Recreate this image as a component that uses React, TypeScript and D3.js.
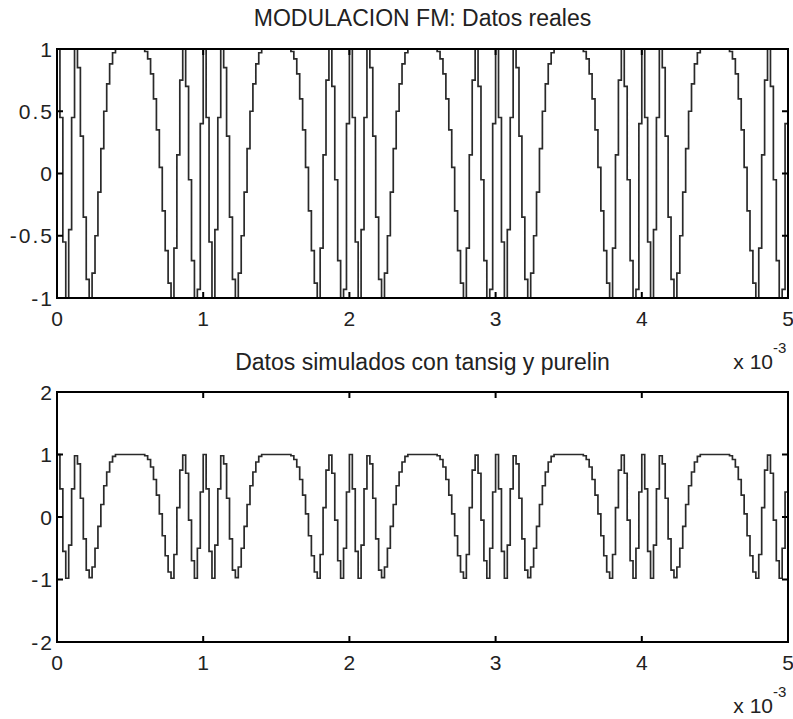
import React, { useEffect, useRef } from 'react';
import * as d3 from 'd3';

const WIDTH = 793;
const HEIGHT = 719;

// one sample every 0.02 ms, one period of the modulation is 1 ms (50 samples)
const sampleStep = 2e-5;

const realPeriod = [
  1.0, 0.45, -0.55, -1.0, -0.45, 0.45, 1.0, 0.85, 0.3, -0.35,
  -0.85, -1.0, -0.8, -0.5, -0.15, 0.2, 0.5, 0.72, 0.88, 0.97,
  1.0, 1.0, 1.0, 1.0, 1.0, 1.0, 1.0, 1.0, 1.0, 1.0,
  0.98, 0.92, 0.8, 0.6, 0.35, 0.05, -0.3, -0.62, -0.88, -1.0,
  -0.6, 0.15, 0.75, 1.0, 0.7, -0.05, -0.7, -1.0, -0.93, 0.4,
];

const simPeriod = [
  1.0, 0.45, -0.55, -0.98, -0.45, 0.45, 0.98, 0.85, 0.3, -0.35,
  -0.85, -0.97, -0.8, -0.5, -0.15, 0.2, 0.5, 0.72, 0.88, 0.97,
  1.0, 1.0, 1.0, 1.0, 1.0, 1.0, 1.0, 1.0, 1.0, 1.0,
  0.98, 0.92, 0.8, 0.6, 0.35, 0.05, -0.3, -0.62, -0.88, -0.98,
  -0.6, 0.15, 0.75, 0.99, 0.7, -0.05, -0.7, -0.98, -0.5, 0.4,
];

// the recorded signal repeats every millisecond; last sample closes the 5 ms window
const realValues = [...realPeriod, ...realPeriod, ...realPeriod, ...realPeriod, ...realPeriod, 1.0];
const simValues = [...simPeriod, ...simPeriod, ...simPeriod, ...simPeriod, ...simPeriod, 1.0];

const xTicks = [0, 1, 2, 3, 4, 5];
const yTicksTop = [-1, -0.5, 0, 0.5, 1];
const yTicksBottom = [-2, -1, 0, 1, 2];

const titleTop = 'MODULACION FM: Datos reales';
const titleBottom = 'Datos simulados con tansig y purelin';

const FONT = '"Liberation Sans", Arial, Helvetica, sans-serif';
const INK = '#222';

const App = () => {
  const ref = useRef<SVGSVGElement>(null);

  useEffect(() => {
    if (!ref.current) return;
    const svg = d3.select(ref.current);
    svg.selectAll('*').remove();
    svg.append('rect').attr('width', WIDTH).attr('height', HEIGHT).attr('fill', '#fff');

    const left = 57;
    const right = 788;

    const panels = [
      { title: titleTop, values: realValues, domain: [-1, 1], ticks: yTicksTop, top: 49, bottom: 298, titleY: 26 },
      { title: titleBottom, values: simValues, domain: [-2, 2], ticks: yTicksBottom, top: 392, bottom: 642, titleY: 370 },
    ];

    const x = d3.scaleLinear().domain([0, 5e-3]).range([left, right]);

    panels.forEach(p => {
      const y = d3.scaleLinear().domain(p.domain).range([p.bottom, p.top]);
      const g = svg.append('g');

      const line = d3.line<number>()
        .x((d, i) => x(i * sampleStep))
        .y(d => y(d))
        .curve(d3.curveStepAfter);

      g.append('path')
        .datum(p.values)
        .attr('d', line)
        .attr('fill', 'none')
        .attr('stroke', '#2a2a2a')
        .attr('stroke-width', 1.7);

      // box
      g.append('rect')
        .attr('x', left)
        .attr('y', p.top)
        .attr('width', right - left)
        .attr('height', p.bottom - p.top)
        .attr('fill', 'none')
        .attr('stroke', '#000')
        .attr('stroke-width', 2);

      const tl = 6;
      // x ticks, inside on bottom and top
      xTicks.forEach(t => {
        const xx = x(t * 1e-3);
        g.append('line').attr('x1', xx).attr('x2', xx).attr('y1', p.bottom).attr('y2', p.bottom - tl)
          .attr('stroke', '#000').attr('stroke-width', 2);
        g.append('line').attr('x1', xx).attr('x2', xx).attr('y1', p.top).attr('y2', p.top + tl)
          .attr('stroke', '#000').attr('stroke-width', 2);
        g.append('text')
          .attr('x', xx)
          .attr('y', p.bottom + 28)
          .attr('text-anchor', 'middle')
          .attr('font-family', FONT)
          .attr('font-size', 21)
          .attr('fill', INK)
          .text(String(t));
      });

      // y ticks, inside on left and right
      p.ticks.forEach(v => {
        const yy = y(v);
        g.append('line').attr('x1', left).attr('x2', left + tl).attr('y1', yy).attr('y2', yy)
          .attr('stroke', '#000').attr('stroke-width', 2);
        g.append('line').attr('x1', right).attr('x2', right - tl).attr('y1', yy).attr('y2', yy)
          .attr('stroke', '#000').attr('stroke-width', 2);
        g.append('text')
          .attr('x', 54)
          .attr('y', yy)
          .attr('dy', '0.36em')
          .attr('text-anchor', 'end')
          .attr('font-family', FONT)
          .attr('font-size', 21)
          .attr('letter-spacing', 2)
          .attr('fill', INK)
          .text(String(v));
      });

      // title
      g.append('text')
        .attr('x', (left + right) / 2)
        .attr('y', p.titleY)
        .attr('text-anchor', 'middle')
        .attr('font-family', FONT)
        .attr('font-size', 23)
        .attr('fill', INK)
        .text(p.title);

      // exponent label
      g.append('text')
        .attr('x', 773)
        .attr('y', p.bottom + 71)
        .attr('text-anchor', 'end')
        .attr('font-family', FONT)
        .attr('font-size', 21)
        .attr('fill', INK)
        .text('x 10');
      g.append('text')
        .attr('x', 773)
        .attr('y', p.bottom + 55)
        .attr('font-family', FONT)
        .attr('font-size', 15)
        .attr('fill', INK)
        .text('-3');
    });
  }, []);

  return (
    <svg
      ref={ref}
      width={WIDTH}
      height={HEIGHT}
      style={{ position: 'absolute', left: 0, top: 0 }}
    />
  );
};

export default App;
